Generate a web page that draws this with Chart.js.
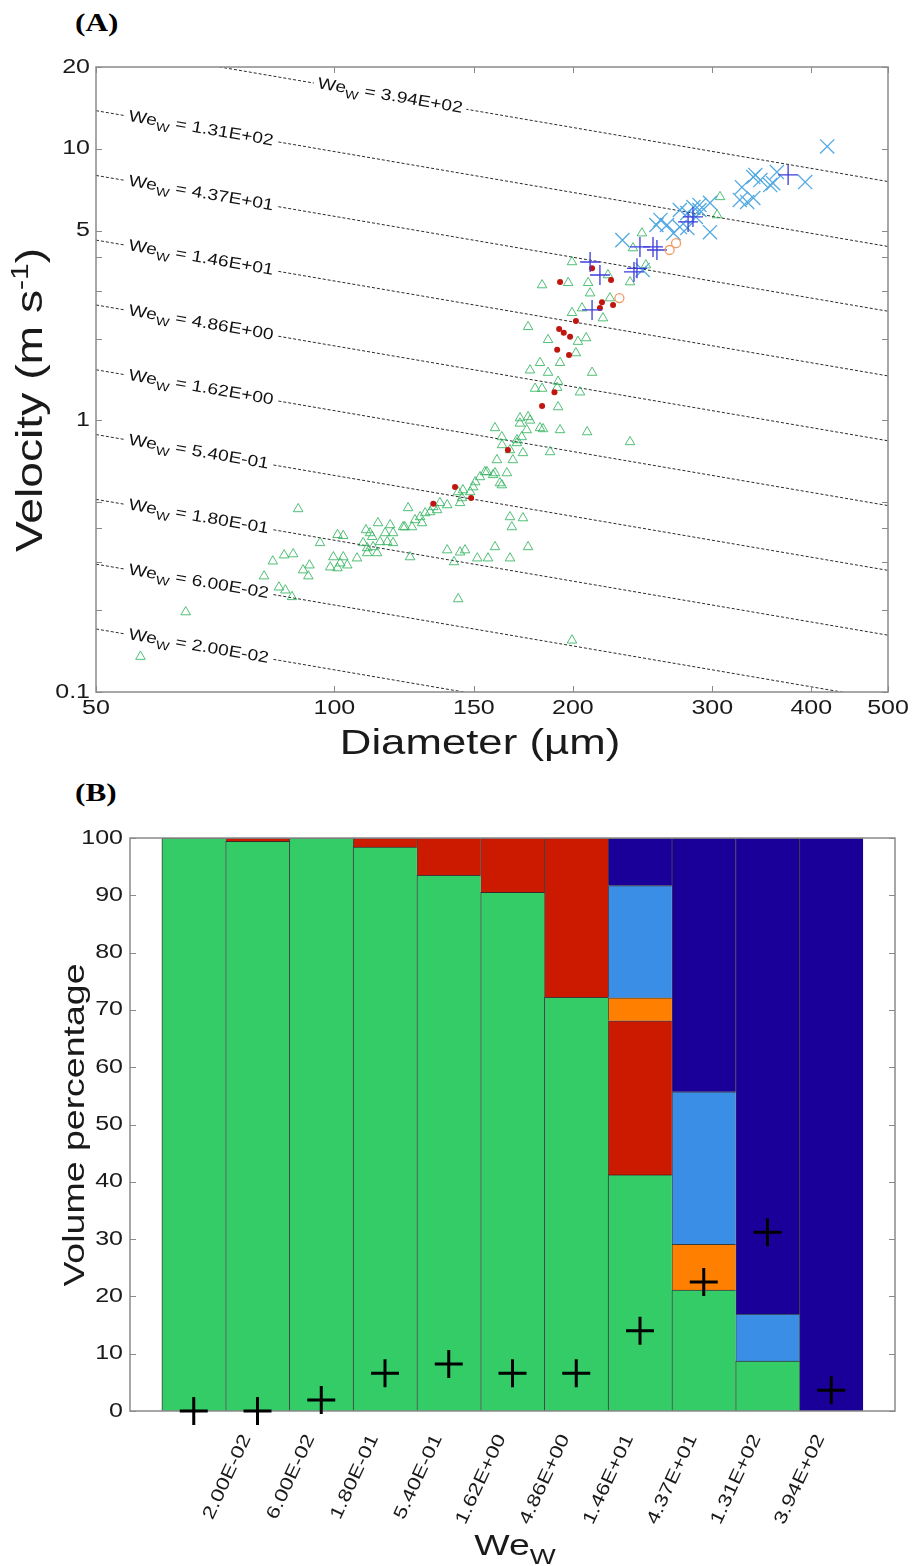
<!DOCTYPE html>
<html>
<head>
<meta charset="utf-8">
<title>Droplet velocity vs diameter and volume percentage by Weber number</title>
<script src="https://cdn.jsdelivr.net/npm/chart.js"></script>
<style>
  html, body { margin:0; padding:0; background:#ffffff; }
  body { position:relative; width:912px; height:1566px; overflow:hidden; }
  .tag { position:absolute; left:75px; font-family:"Liberation Serif","Times New Roman",serif; font-weight:bold; font-size:26px; line-height:26px; transform:scaleX(1.2); transform-origin:0 0; color:#000; }
  #wrapA { position:absolute; left:0; top:0; width:912px; height:770px; }
  #wrapB { position:absolute; left:0; top:770px; width:912px; height:796px; }
</style>
</head>
<body>
<div class="tag" style="top:10px">(A)</div>
<div class="tag" style="top:780px">(B)</div>
<div id="wrapA"><canvas id="chartA" width="912" height="770"></canvas></div>
<div id="wrapB"><canvas id="chartB" width="912" height="796"></canvas></div>
<script>
// ================= DATA =================
// Weber-number iso-lines / bin edges
const weValues = [0.02, 0.06, 0.18, 0.54, 1.62, 4.86, 14.6, 43.7, 131, 394];
const weTickLabels = ['2.00E-02','6.00E-02','1.80E-01','5.40E-01','1.62E+00','4.86E+00','1.46E+01','4.37E+01','1.31E+02','3.94E+02'];
const waterDensity = 1000;      // kg m-3
const surfaceTension = 0.0728;  // N m-1
const lineDiameters = [50, 500]; // µm, ends of the iso-We lines

// Panel A axes
const diameterTicks = [50, 100, 150, 200, 300, 400, 500];
const velocityTicks = [0.1, 0.2, 0.3, 0.4, 0.5, 1, 2, 3, 4, 5, 10, 20];
const velocityTickLabels = [0.1, 1, 5, 10, 20];

// Panel A scatter series: [diameter µm, velocity m/s]
const greenTriangles = [
 [56.9,0.135],[64.9,0.197],[81.5,0.267],[83.6,0.303],[86.4,0.319],[88.7,0.322],[85.1,0.243],[86.7,0.237],
 [88.4,0.224],[91.3,0.281],[93.0,0.293],[92.7,0.267],[90.0,0.472],[95.9,0.354],[100.9,0.379],[102.6,0.376],
 [99.7,0.314],[102.6,0.314],[101.7,0.298],[103.8,0.293],[98.8,0.288],[100.9,0.286],[106.8,0.311],[110.0,0.339],
 [110.9,0.385],[114.2,0.357],[113.2,0.325],[109.6,0.395],[115.9,0.385],[118.6,0.385],[117.6,0.412],[111.9,0.342],
 [108.7,0.354],[116.6,0.357],[118.6,0.354],[110.0,0.325],[111.6,0.373],[113.5,0.419],[122.1,0.405],[123.9,0.476],
 [126.4,0.430],[128.3,0.441],[130.2,0.456],[133.3,0.480],[134.8,0.468],[129.0,0.419],[125.3,0.405],[132.1,0.460],
 [124.6,0.314],[138.8,0.488],[135.9,0.497],[143.3,0.545],[144.9,0.518],[148.4,0.545],[149.7,0.568],[150.6,0.593],
 [152.7,0.619],[155.8,0.646],[159.5,0.640],[161.8,0.588],[165.1,0.640],[145.3,0.554],[144.1,0.497],[138.8,0.333],
 [144.1,0.327],[146.2,0.333],[141.6,0.301],[151.5,0.311],[156.3,0.311],[159.5,0.342],[166.6,0.311],[175.6,0.342],
 [166.6,0.441],[173.0,0.437],[167.5,0.405],[143.3,0.220],[199.5,0.155],[160.4,0.715],[168.0,0.715],[166.6,0.778],
 [170.0,0.826],[172.4,0.869],[174.9,0.922],[176.6,1.00],[159.5,0.938],[162.7,0.869],[171.5,0.975],[181.8,0.938],
 [187.2,0.765],[179.2,1.31],[182.9,1.31],[176.6,1.53],[181.8,1.63],[186.1,1.50],[186.1,1.98],[175.6,2.21],
 [191.6,1.12],[191.1,1.32],[183.4,0.930],[192.7,0.922],[162.8,0.812],[173.0,0.759],[154.9,0.646],[158.6,0.630],
 [162.7,0.578],[122.7,0.405],[171.5,1.02],[175.6,1.03],[170.0,0.847],[199.5,3.83],[182.9,3.15],[197.3,3.21],
 [209.1,3.21],[210.3,2.94],[222.8,2.82],[205.4,2.59],[199.5,2.49],[218.3,2.38],[207.9,2.01],[203.0,1.95],
 [201.8,1.77],[192.7,1.63],[211.5,1.50],[191.6,1.39],[204.2,1.27],[208.5,0.906],[236.2,0.833],[306.8,6.65],
 [304.2,5.70],[244.5,4.89],[238.2,4.31],[236.2,3.23],[247.3,3.73],[221.5,3.43]
];
const redDots = [
 [211.5,3.63],[192.7,3.23],[223.5,3.29],[217.7,2.72],[216.4,2.59],[224.8,2.66],[201.8,2.32],[192.2,2.17],
 [194.8,2.10],[198.4,2.03],[191.1,1.82],[197.8,1.74],[189.6,1.27],[182.9,1.13],[165.6,0.778],[142.0,0.568],
 [148.8,0.518],[133.3,0.493]
];
const bluePlus = [
 [374,8.01],[283.6,5.61],[279.6,5.38],[243.1,4.35],[252.5,4.35],[255.4,4.24],[238.9,3.52],[241.0,3.63],
 [210.3,3.83],[216.4,3.43],[211.5,2.55]
];
const lightBlueCross = [
 [419,10.2],[393,7.54],[338,7.87],[345,7.67],[327,7.22],[358,7.47],[362,8.21],[325,6.48],[332,6.37],[338,6.59],
 [284,6.10],[289,5.95],[298,6.32],[279,5.80],[273,5.95],[258,5.47],[255,5.24],[263,5.24],[273,5.15],[268,4.89],
 [279,5.11],[298,4.93],[231,4.61],[245,3.58],[286,5.61],[355,7.35],[289,6.21],[340,8.01]
];
const orangeCircles = [[270,4.49],[265,4.24],[229,2.82]];

// Panel B: volume percentage per We bin
const binIndex = [1,2,3,4,5,6,7,8,9,10,11];
const binEdges = [1.5,2.5,3.5,4.5,5.5,6.5,7.5,8.5,9.5,10.5];
const volGreen     = [100, 99.4, 100, 98.4, 93.5, 90.5, 72.2, 41.2, 21.1, 8.7, null];
const volRed       = [null, 0.6, null, 1.6, 6.5, 9.5, 27.8, 26.9, null, null, null];
const volOrange    = [null, null, null, null, null, null, null, 4.0, 8.0, null, null];
const volLightBlue = [null, null, null, null, null, null, null, 19.6, 26.6, 8.2, null];
const volDarkBlue  = [null, null, null, null, null, null, null, 8.3, 44.3, 83.1, 100];
const crossValues  = [0.0, 0.0, 1.9, 6.6, 8.2, 6.6, 6.6, 14.0, 22.5, 31.2, 3.6];

// ================= HELPERS =================
const FONT = '"Liberation Sans", Arial, Helvetica, sans-serif';
const STRETCH = 1.25;

function enableStretch(canvas){
  const ctx = canvas.getContext('2d');
  const base = CanvasRenderingContext2D.prototype.fillText;
  ctx.$stretch = STRETCH;
  ctx.fillText = function(t, x, y){
    const s = this.$stretch || 1;
    this.save(); this.translate(x, y); this.scale(s, 1); base.call(this, t, 0, 0); this.restore();
  };
}
function weVelocity(we, dMicron){ return Math.sqrt(we * surfaceTension / (waterDensity * dMicron * 1e-6)); }
function toPts(arr){ return arr.map(p => ({x:p[0], y:p[1]})); }

function richText(ctx, segs, x, y, rot, align){
  ctx.save(); ctx.translate(x, y); ctx.rotate(rot || 0);
  ctx.textAlign = 'left'; ctx.textBaseline = 'alphabetic'; ctx.fillStyle = '#1a1a1a';
  const s = ctx.$stretch || 1; let total = 0;
  for (const g of segs){ ctx.font = g.size + 'px ' + FONT; g.w = ctx.measureText(g.t).width * s; total += g.w; }
  let cx = align === 'center' ? -total/2 : 0;
  for (const g of segs){ ctx.font = g.size + 'px ' + FONT; ctx.fillText(g.t, cx, g.dy || 0); cx += g.w; }
  ctx.restore();
}

const titlesPlugin = {
  id: 'axisTitles',
  afterDraw(chart, args, o){
    for (const it of (o.items || [])) richText(chart.ctx, it.segs.map(s => Object.assign({}, s)), it.x, it.y, it.rot, 'center');
  }
};

function drawFrame(chart, o){
  const ctx = chart.ctx, a = chart.chartArea;
  ctx.save();
  ctx.strokeStyle = o.color; ctx.lineWidth = o.width;
  ctx.strokeRect(a.left, a.top, a.right - a.left, a.bottom - a.top);
  ctx.lineWidth = 1; ctx.beginPath();
  for (const v of (o.xTicks || [])){
    const x = Math.round(chart.scales.x.getPixelForValue(v)) + 0.5;
    ctx.moveTo(x, a.bottom); ctx.lineTo(x, a.bottom - o.len);
    ctx.moveTo(x, a.top); ctx.lineTo(x, a.top + o.len);
  }
  for (const v of (o.yTicks || [])){
    const y = Math.round(chart.scales.y.getPixelForValue(v)) + 0.5;
    ctx.moveTo(a.left, y); ctx.lineTo(a.left + o.len, y);
    ctx.moveTo(a.right, y); ctx.lineTo(a.right - o.len, y);
  }
  ctx.stroke(); ctx.restore();
}
const framePlugin = {
  id: 'frameTicks',
  beforeDatasetDraw(chart, args, o){ if (o.beforeIndex === args.index) drawFrame(chart, o); },
  afterDatasetsDraw(chart, args, o){ if (o.beforeIndex === undefined) drawFrame(chart, o); }
};

function drawWeLabels(chart, o){
  const ctx = chart.ctx, xs = chart.scales.x, ys = chart.scales.y;
  weValues.forEach((we, i) => {
    const d0 = o.anchor[i];
    const x0 = xs.getPixelForValue(d0), y0 = ys.getPixelForValue(weVelocity(we, d0));
    const x1 = xs.getPixelForValue(d0 * 1.5), y1 = ys.getPixelForValue(weVelocity(we, d0 * 1.5));
    const ang = Math.atan2(y1 - y0, x1 - x0);
    ctx.save(); ctx.translate(x0, y0); ctx.rotate(ang);
    const segs = [{t:'We', size:o.size}, {t:'W', size:o.subSize, dy:o.subDy}, {t:' = ' + weTickLabels[i], size:o.size}];
    let total = 0;
    for (const g of segs){ ctx.font = g.size + 'px ' + FONT; g.w = ctx.measureText(g.t).width * o.stretch; total += g.w; }
    ctx.fillStyle = '#ffffff'; ctx.fillRect(-4, -8, total + 8, 16);
    ctx.fillStyle = '#111111'; ctx.textAlign = 'left'; ctx.textBaseline = 'middle';
    ctx.$stretch = o.stretch;
    let cx = 0;
    for (const g of segs){ ctx.font = g.size + 'px ' + FONT; ctx.fillText(g.t, cx, g.dy || 0); cx += g.w; }
    ctx.$stretch = STRETCH;
    ctx.restore();
  });
}
const weLabelPlugin = {
  id: 'weLabels',
  beforeDatasetsDraw(chart){ chart.$weDone = false; },
  beforeDatasetDraw(chart, args, o){
    if (chart.$weDone) return;
    if (chart.data.datasets[args.index].isWeLine) return;
    chart.$weDone = true; drawWeLabels(chart, o);
  },
  afterDatasetsDraw(chart, args, o){ if (!chart.$weDone){ chart.$weDone = true; drawWeLabels(chart, o); } }
};

// ================= CHART A =================
const canvasA = document.getElementById('chartA');
enableStretch(canvasA);

const weLineSets = weValues.map((we, i) => ({
  type: 'line', isWeLine: true, label: 'We ' + weTickLabels[i],
  data: lineDiameters.map(d => ({x:d, y:weVelocity(we, d)})),
  borderColor: '#2a2a2a', borderWidth: 1, borderDash: [3, 2],
  pointRadius: 0, showLine: true, fill: false, tension: 0, order: 10
}));

new Chart(canvasA, {
  type: 'scatter',
  data: {
    datasets: [
      ...weLineSets,
      { label:'triangles', data: toPts(greenTriangles), pointStyle:'triangle', pointRadius:5.5,
        pointBorderColor:'rgba(50,180,95,0.85)', pointBackgroundColor:'rgba(0,0,0,0)', pointBorderWidth:1, order:5 },
      { label:'dots', data: toPts(redDots), pointStyle:'circle', pointRadius:3,
        pointBorderColor:'#b81410', pointBackgroundColor:'#c0160f', pointBorderWidth:0, order:4 },
      { label:'x', data: toPts(lightBlueCross), pointStyle:'crossRot', pointRadius:10,
        pointBorderColor:'#52a9e2', pointBorderWidth:1.3, order:3 },
      { label:'plus', data: toPts(bluePlus), pointStyle:'cross', pointRadius:10,
        pointBorderColor:'#3c3cdc', pointBorderWidth:1.3, order:2 },
      { label:'circles', data: toPts(orangeCircles), pointStyle:'circle', pointRadius:4.5,
        pointBorderColor:'#f29a66', pointBackgroundColor:'rgba(0,0,0,0)', pointBorderWidth:1.3, order:1 }
    ]
  },
  options: {
    responsive: false, animation: false, devicePixelRatio: 1, events: [],
    layout: { padding: { left:0, top:67, right:24, bottom:0 } },
    scales: {
      x: {
        type: 'logarithmic', min: 50, max: 500,
        afterBuildTicks: s => { s.ticks = diameterTicks.map(v => ({value:v})); },
        afterFit: s => { s.height = 78; },
        grid: { display:false, drawTicks:false }, border: { display:false },
        ticks: { autoSkip:false, maxRotation:0, minRotation:0, padding:4, color:'#1a1a1a',
                 font:{ family:FONT, size:20 }, callback: v => String(v) }
      },
      y: {
        type: 'logarithmic', min: 0.1, max: 20,
        afterBuildTicks: s => { s.ticks = velocityTicks.map(v => ({value:v})); },
        afterFit: s => { s.width = 96; },
        grid: { display:false, drawTicks:false }, border: { display:false },
        ticks: { autoSkip:false, padding:6, color:'#1a1a1a', font:{ family:FONT, size:20 },
                 callback: v => velocityTickLabels.includes(v) ? String(v) : '' }
      }
    },
    plugins: {
      legend: { display:false }, tooltip: { enabled:false },
      weLabels: { anchor:[55,55,55,55,55,55,55,55,55,95.3], size:16, subSize:12, subDy:6, stretch:1.2 },
      frameTicks: { color:'#8a8a8a', width:1.5, len:6, xTicks: diameterTicks, yTicks: velocityTicks },
      axisTitles: { items: [
        { segs:[{t:'Velocity (m s', size:37}, {t:'-1', size:24, dy:-14}, {t:')', size:37}], x:42, y:400, rot:-Math.PI/2 },
        { segs:[{t:'Diameter (\u00b5m)', size:35}], x:480, y:754, rot:0 }
      ] }
    }
  },
  plugins: [weLabelPlugin, framePlugin, titlesPlugin]
});

// ================= CHART B =================
const canvasB = document.getElementById('chartB');
enableStretch(canvasB);

const barSeries = [
  { label:'green', values: volGreen, color:'#33cc66' },
  { label:'red', values: volRed, color:'#cc1a00' },
  { label:'orange', values: volOrange, color:'#ff8000' },
  { label:'light blue', values: volLightBlue, color:'#3a8ee6' },
  { label:'dark blue', values: volDarkBlue, color:'#1a0099' }
];

new Chart(canvasB, {
  type: 'bar',
  data: {
    datasets: [
      ...barSeries.map(s => ({
        type:'bar', label:s.label,
        data: binIndex.map((b, i) => ({x:b, y:s.values[i]})),
        backgroundColor: s.color, borderColor: 'rgba(0,0,0,0.75)',
        borderWidth: { top:1, left:1, right:0, bottom:0 }, borderSkipped: false,
        categoryPercentage: 1, barPercentage: 1, order: 1
      })),
      { type:'line', label:'marker', yAxisID:'y2',
        data: binIndex.map((b, i) => ({x:b, y:crossValues[i]})),
        showLine:false, pointStyle:'cross', pointRadius:14, pointBorderWidth:3,
        pointBorderColor:'#000000', pointBackgroundColor:'#000000', order:0, clip:false }
    ]
  },
  options: {
    responsive: false, animation: false, devicePixelRatio: 1, events: [],
    layout: { padding: { left:0, top:68, right:17, bottom:0 } },
    scales: {
      x: {
        type:'linear', min:0, max:12, stacked:true, offset:false,
        afterBuildTicks: s => { s.ticks = binEdges.map(v => ({value:v})); },
        afterFit: s => { s.height = 155; },
        grid: { display:false, drawTicks:false }, border: { display:false },
        ticks: { autoSkip:false, minRotation:65, maxRotation:65, padding:20, labelOffset:21,
                 color:'#1a1a1a', font:{ family:FONT, size:18 }, callback: (v, i) => weTickLabels[i] }
      },
      y: {
        type:'linear', min:0, max:100, stacked:true,
        afterFit: s => { s.width = 130; },
        grid: { display:false, drawTicks:false }, border: { display:false },
        ticks: { stepSize:10, padding:7, color:'#1a1a1a', font:{ family:FONT, size:20 } }
      },
      y2: { type:'linear', min:0, max:100, display:false, stacked:false }
    },
    plugins: {
      legend: { display:false }, tooltip: { enabled:false },
      frameTicks: { color:'#8a8a8a', width:1.5, len:6, yTicks:[0,10,20,30,40,50,60,70,80,90,100], beforeIndex:5 },
      axisTitles: { items: [
        { segs:[{t:'Volume percentage', size:30}], x:84, y:355, rot:-Math.PI/2 },
        { segs:[{t:'We', size:30}, {t:'W', size:22, dy:9}], x:515, y:785, rot:0 }
      ] }
    }
  },
  plugins: [framePlugin, titlesPlugin]
});
</script>
</body>
</html>
